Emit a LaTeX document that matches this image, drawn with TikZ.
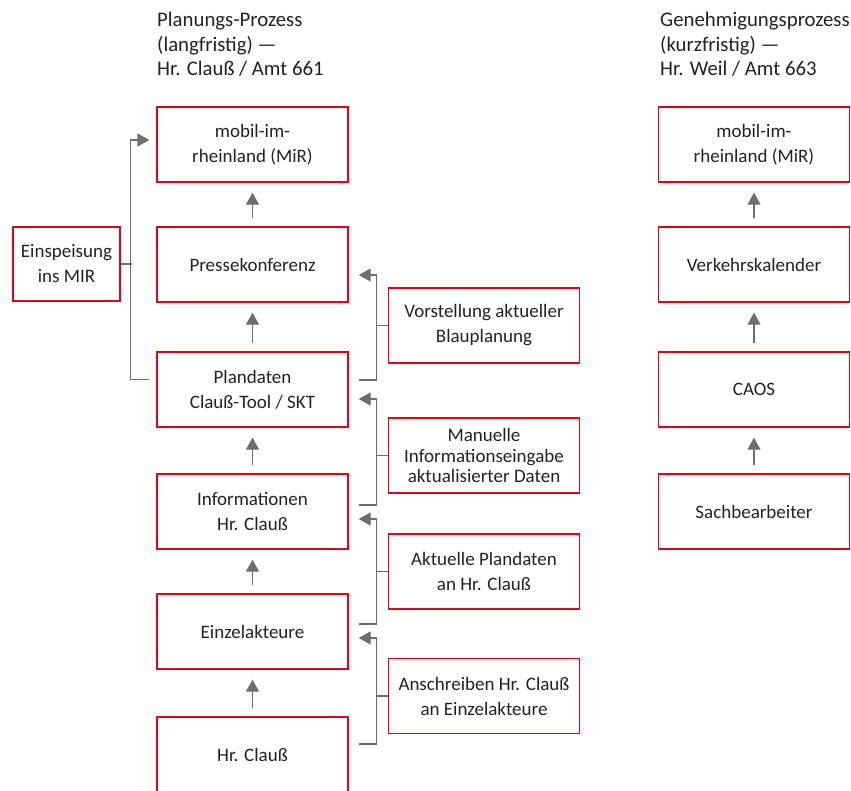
\documentclass[tikz,border=0pt]{standalone}
\usepackage{fontspec}
\setmainfont{Carlito}
\usetikzlibrary{arrows.meta,calc}
\definecolor{boxred}{HTML}{E2001A}
\definecolor{conngray}{HTML}{6E6E6E}
\definecolor{txt}{HTML}{222222}
\begin{document}
\begin{tikzpicture}[x=1pt,y=-1pt,
  box/.style={draw=boxred, line width=1.3pt, minimum width=191pt, minimum height=75pt,
    align=center, text=txt, inner sep=0pt, font=\fontsize{19}{25}\selectfont},
  title/.style={align=left, text=txt, inner sep=0pt, anchor=north west,
    font=\fontsize{20.8}{24.5}\selectfont},
  conn/.style={draw=conngray, line width=1.2pt},
  arr/.style={conn, -{Triangle[length=12pt,width=13pt]}}
]
\useasboundingbox (0,0) rectangle (851,791);

% titles
\node[title] (t1) at (157,12) {Planungs-Prozess\\(langfristig) —\\Hr. Clauß / Amt 661};
\node[title] (t2) at (660,12) {Genehmigungsprozess\\(kurzfristig) —\\Hr. Weil / Amt 663};

% left column
\node[box] (mirL) at (252.5,144.5) {mobil-im-\\rheinland (MiR)};
\node[box] (presse) at (252.5,264.5) {Pressekonferenz};
\node[box] (plan) at (252.5,389.5) {Plandaten\\Clauß-Tool / SKT};
\node[box] (info) at (252.5,511.5) {Informationen\\Hr. Clauß};
\node[box] (einzel) at (252.5,631.5) {Einzelakteure};
\node[box] (hrc) at (252.5,754.5) {Hr. Clauß};

% Einspeisung
\node[box, minimum width=107pt, minimum height=74pt] (eins) at (66.5,264) {Einspeisung\\ins MIR};

% side boxes
\node[box] (vorst) at (484,325.5) {Vorstellung aktueller\\Blauplanung};
\node[box, font=\fontsize{19}{20.5}\selectfont] (manu) at (484,455.5) {Manuelle\\Informationseingabe\\aktualisierter Daten};
\node[box] (aktu) at (484,571.5) {Aktuelle Plandaten\\an Hr. Clauß};
\node[box] (ansch) at (484,696) {Anschreiben Hr. Clauß\\an Einzelakteure};

% right column
\node[box] (mirR) at (754,144.5) {mobil-im-\\rheinland (MiR)};
\node[box] (verk) at (754,264.5) {Verkehrskalender};
\node[box] (caos) at (754,389.5) {CAOS};
\node[box] (sach) at (754,511.5) {Sachbearbeiter};

% vertical arrows left
\draw[arr] ([shift={(0,-8)}]presse.north) -- ([shift={(0,10)}]mirL.south);
\draw[arr] ([shift={(0,-8)}]plan.north) -- ([shift={(0,10)}]presse.south);
\draw[arr] ([shift={(0,-8)}]info.north) -- ([shift={(0,10)}]plan.south);
\draw[arr] ([shift={(0,-8)}]einzel.north) -- ([shift={(0,10)}]info.south);
\draw[arr] ([shift={(0,-8)}]hrc.north) -- ([shift={(0,10)}]einzel.south);

% vertical arrows right
\draw[arr] ([shift={(0,-8)}]verk.north) -- ([shift={(0,10)}]mirR.south);
\draw[arr] ([shift={(0,-8)}]caos.north) -- ([shift={(0,10)}]verk.south);
\draw[arr] ([shift={(0,-8)}]sach.north) -- ([shift={(0,10)}]caos.south);

% brackets right side
\draw[arr] ([shift={(10,-9.5)}]plan.east) -- ++(18,0) |- ([shift={(10,10.5)}]presse.east);
\draw[conn] (vorst.west) -- ++(-12,0);
\draw[arr] ([shift={(10,-6.5)}]info.east) -- ++(18,0) |- ([shift={(10,9.5)}]plan.east);
\draw[conn] (manu.west) -- ++(-12,0);
\draw[arr] ([shift={(10,-7.5)}]einzel.east) -- ++(18,0) |- ([shift={(10,7.5)}]info.east);
\draw[conn] (aktu.west) -- ++(-12,0);
\draw[arr] ([shift={(10,-10.5)}]hrc.east) -- ++(18,0) |- ([shift={(10,6.5)}]einzel.east);
\draw[conn] (ansch.west) -- ++(-12,0);

% Einspeisung bracket
\draw[arr] ([shift={(-7,-10)}]plan.west) -- ++(-19,0) |- ([shift={(-7,-4.5)}]mirL.west);
\draw[conn] (eins.east) -- ++(11,0);
\end{tikzpicture}
\end{document}
